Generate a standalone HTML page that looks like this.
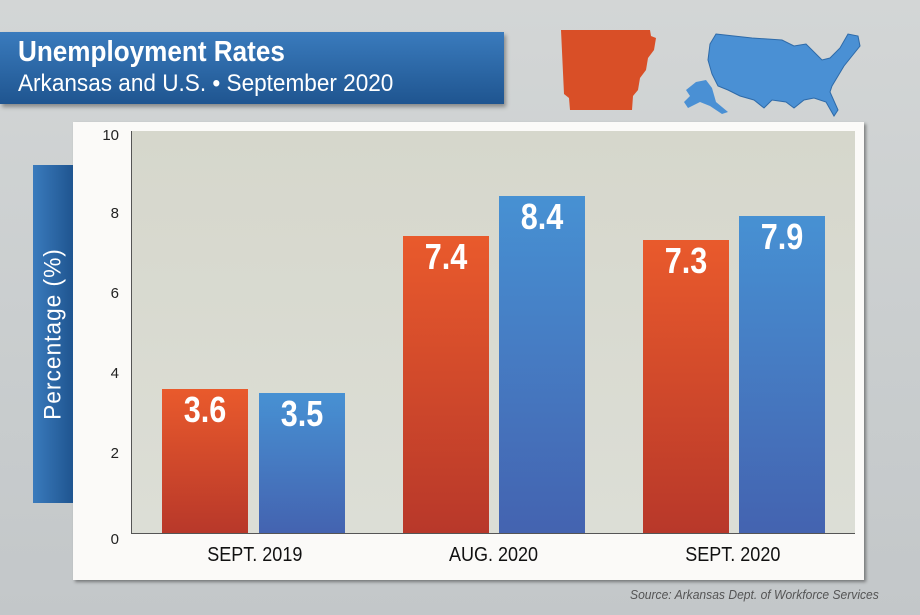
<!DOCTYPE html>
<html><head><meta charset="utf-8"><style>
body{margin:0;width:920px;height:615px;overflow:hidden;background:linear-gradient(180deg,#d3d6d6,#c9cdce 60%,#c3c7c9);font-family:"Liberation Sans",sans-serif;position:relative}
.a{position:absolute}
.n{display:inline-block;transform:scaleX(0.8);transform-origin:left center;white-space:nowrap}
.title{left:0;top:32px;width:504px;height:72px;background:linear-gradient(180deg,#3a7bbd,#1f5590);box-shadow:2px 3px 4px rgba(0,0,0,.35);color:#fff}
.bar{position:absolute;bottom:0;width:86px;color:#fff;font-weight:bold;font-size:36px;text-align:center}
.bar span{display:inline-block;transform:scaleX(0.85)}
.o{background:linear-gradient(180deg,#e95a2c,#b8382a)}
.b{background:linear-gradient(180deg,#4791d3,#4463b0)}
.yl{position:absolute;right:6px;font-size:15px;color:#222}
.cat{position:absolute;top:544px;font-size:20px;color:#111;width:200px;text-align:center}
.cat span{display:inline-block;transform:scaleX(0.9)}
</style></head><body>
<div class="a title"><div class="a" style="left:18px;top:4px;font-size:29px;font-weight:bold"><span class="n" style="transform:scaleX(0.9)">Unemployment Rates</span></div>
<div class="a" style="left:18px;top:38px;font-size:24px"><span class="n" style="transform:scaleX(0.94)">Arkansas and U.S. • September 2020</span></div></div>
<svg class="a" style="left:558px;top:28px" width="110" height="84"><path d="M3,2 L92,2 L93,8 L98,10 L96,22 L90,30 L88,42 L82,50 L80,62 L75,68 L74,82 L12,82 L11,70 L6,66 Z" fill="#d94f27"/></svg>
<svg class="a" style="left:682px;top:32px" width="190" height="90"><path d="M34,2 L70,6 L100,8 L112,14 L124,12 L132,20 L140,28 L148,26 L158,16 L166,2 L176,4 L178,14 L170,24 L162,34 L156,44 L150,54 L148,60 L156,78 L152,84 L144,70 L132,66 L122,68 L112,76 L104,70 L90,68 L82,76 L72,68 L58,64 L46,58 L36,54 L30,42 L26,28 L28,12 Z" fill="#4a90d4" stroke="#2e6aa8" stroke-width="1"/><path d="M14,50 L24,48 L30,56 L34,70 L46,80 L40,82 L28,74 L18,70 L6,76 L2,70 L8,64 L4,58 Z" fill="#4a90d4"/></svg>
<div class="a" style="left:73px;top:122px;width:791px;height:458px;background:#fbfaf8;box-shadow:2px 2px 3px rgba(0,0,0,.4)"></div>
<div class="a" style="left:33px;top:165px;width:40px;height:338px;background:linear-gradient(90deg,#3a7bbd,#1f5590)"></div>
<div class="a" style="left:33px;top:165px;width:40px;height:338px;display:flex;align-items:center;justify-content:center"><div style="transform:rotate(-90deg) scaleX(0.95);white-space:nowrap;color:#fff;font-size:24px;letter-spacing:1px">Percentage (%)</div></div>
<div class="a" style="left:131px;top:131px;width:723px;height:402px;background:linear-gradient(180deg,#d6d7cc,#dcded6);border-left:1px solid #555;border-bottom:1px solid #555">
<div class="bar o" style="left:30px;height:144px"><span>3.6</span></div>
<div class="bar b" style="left:127px;height:140px"><span>3.5</span></div>
<div class="bar o" style="left:271px;height:297px"><span>7.4</span></div>
<div class="bar b" style="left:367px;height:337px"><span>8.4</span></div>
<div class="bar o" style="left:511px;height:293px"><span>7.3</span></div>
<div class="bar b" style="left:607px;height:317px"><span>7.9</span></div>
</div>
<div class="a" style="left:73px;top:0;width:52px;height:615px">
<div class="yl" style="top:127px">10</div><div class="yl" style="top:205px">8</div><div class="yl" style="top:285px">6</div><div class="yl" style="top:365px">4</div><div class="yl" style="top:445px">2</div><div class="yl" style="top:531px">0</div></div>
<div class="cat" style="left:155px"><span>SEPT. 2019</span></div>
<div class="cat" style="left:393px"><span>AUG. 2020</span></div>
<div class="cat" style="left:633px"><span>SEPT. 2020</span></div>
<div class="a" style="left:630px;top:587px;font-size:13px;font-style:italic;color:#555"><span class="n" style="transform:scaleX(0.93)">Source: Arkansas Dept. of Workforce Services</span></div>
</body></html>
